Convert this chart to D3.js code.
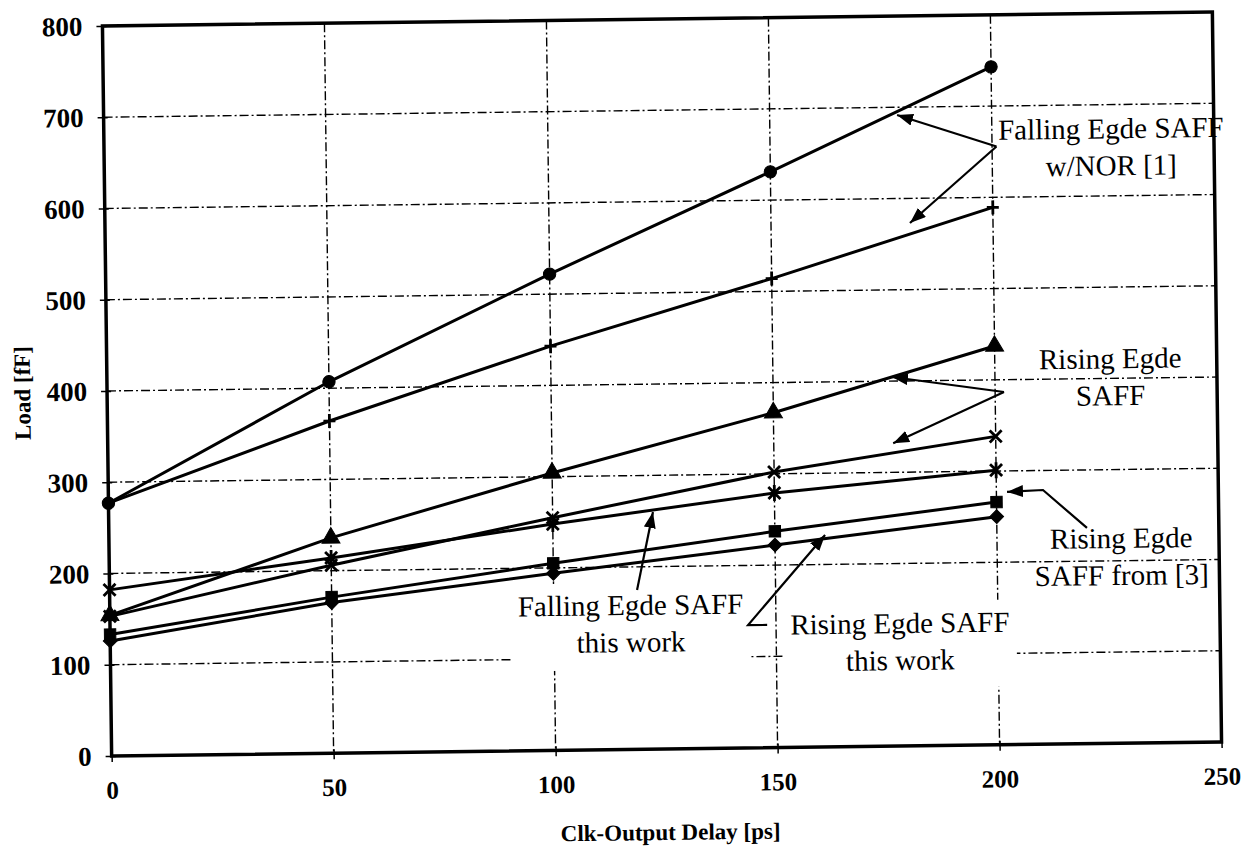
<!DOCTYPE html>
<html>
<head>
<meta charset="utf-8">
<script src="https://cdn.jsdelivr.net/npm/d3@7"></script>
<style>
  body { margin: 0; background: #fff; }
  svg { display: block; }
</style>
</head>
<body>
<div id="chart"></div>
<script>
// values
var delays = [0, 50, 100, 150, 200];
var risingThisWork = [126, 165, 194, 222, 250];     // diamond
var risingRef3 = [133, 171, 205, 237, 266];         // square
var risingSaffTri = [154, 236, 304, 367, 437];      // triangle
var risingSaffX = [153, 206, 255, 302, 338];        // x
var fallingThisWork = [182, 214, 248, 279, 301];    // asterisk
var fallingNorCircle = [277, 407, 522, 631, 743];   // circle
var fallingNorPlus = [277, 364, 443, 514, 589];     // plus

var xTicks = [0, 50, 100, 150, 200, 250];
var yTicks = [0, 100, 200, 300, 400, 500, 600, 700, 800];

var W = 1249, H = 846;
var plotLeft = 107, plotTop = 19, width = 1110, height = 730;

var svg = d3.select("#chart").append("svg")
    .attr("width", W)
    .attr("height", H)
    .style("font-family", "'Liberation Serif', 'Times New Roman', serif");

// the scan is tilted a little
var root = svg.append("g").attr("transform", "rotate(-0.72,662,384)");
var g = root.append("g").attr("transform", "translate(" + plotLeft + "," + plotTop + ")");

var x = d3.scaleLinear().domain([0, 250]).range([0, width]);
var y = d3.scaleLinear().domain([0, 800]).range([height, 0]);

var defs = svg.append("defs");
defs.append("marker")
    .attr("id", "arrow")
    .attr("viewBox", "0 0 16 12")
    .attr("refX", 16)
    .attr("refY", 6)
    .attr("markerUnits", "userSpaceOnUse")
    .attr("markerWidth", 16)
    .attr("markerHeight", 12)
    .attr("orient", "auto")
  .append("path")
    .attr("d", "M0,0L16,6L0,12z")
    .attr("fill", "#000");

// grid
var dash = "9,3,2,3";
g.selectAll(".hgrid")
    .data(yTicks.filter(function(d) { return d > 0 && d < 800; }))
  .enter().append("line")
    .attr("class", "hgrid")
    .attr("x1", 0).attr("x2", width)
    .attr("y1", function(d) { return y(d); })
    .attr("y2", function(d) { return y(d); })
    .attr("stroke", "#000").attr("stroke-width", 1.4)
    .attr("stroke-dasharray", dash);

g.selectAll(".vgrid")
    .data(xTicks.filter(function(d) { return d > 0 && d < 250; }))
  .enter().append("line")
    .attr("class", "vgrid")
    .attr("y1", 0).attr("y2", height)
    .attr("x1", function(d) { return x(d); })
    .attr("x2", function(d) { return x(d); })
    .attr("stroke", "#000").attr("stroke-width", 1.4)
    .attr("stroke-dasharray", dash);

// axes
var yAxis = g.append("g")
    .call(d3.axisLeft(y).tickValues(yTicks).tickSize(6).tickPadding(14));
yAxis.select(".domain").remove();
yAxis.selectAll(".tick line").attr("x1", 4).attr("stroke-width", 1.5);
yAxis.selectAll(".tick text")
    .attr("dy", "0.33em")
    .style("font-family", "'Liberation Serif', serif")
    .style("font-weight", "bold")
    .style("font-size", "27px")
    .attr("fill", "#000");

var xAxis = g.append("g")
    .attr("transform", "translate(0," + height + ")")
    .call(d3.axisBottom(x).tickValues(xTicks).tickSize(6).tickPadding(19));
xAxis.select(".domain").remove();
xAxis.selectAll(".tick line").attr("y1", -4).attr("stroke-width", 1.5);
xAxis.selectAll(".tick text")
    .attr("dy", "0.71em")
    .style("font-family", "'Liberation Serif', serif")
    .style("font-weight", "bold")
    .style("font-size", "25px")
    .attr("fill", "#000");

g.append("rect")
    .attr("width", width)
    .attr("height", height)
    .attr("fill", "none")
    .attr("stroke", "#000")
    .attr("stroke-width", 3.5);

// axis titles
root.append("text")
    .attr("transform", "translate(22,385) rotate(-90)")
    .attr("text-anchor", "middle")
    .attr("dy", "0.35em")
    .style("font-weight", "bold")
    .style("font-size", "23px")
    .text("Load [fF]");

root.append("text")
    .attr("x", 665)
    .attr("y", 840)
    .attr("text-anchor", "middle")
    .style("font-weight", "bold")
    .style("font-size", "23px")
    .text("Clk-Output Delay [ps]");

// series
var series = [
    {name: "risingThisWork", values: risingThisWork, symbol: "diamond"},
    {name: "risingRef3", values: risingRef3, symbol: "square"},
    {name: "risingSaffTri", values: risingSaffTri, symbol: "triangle"},
    {name: "risingSaffX", values: risingSaffX, symbol: "times"},
    {name: "fallingThisWork", values: fallingThisWork, symbol: "asterisk"},
    {name: "fallingNorCircle", values: fallingNorCircle, symbol: "circle"},
    {name: "fallingNorPlus", values: fallingNorPlus, symbol: "plus"}
];

var line = d3.line()
    .x(function(d, i) { return x(delays[i]); })
    .y(function(d) { return y(d); });

series.forEach(function(s) {
    g.append("path")
        .datum(s.values)
        .attr("d", line)
        .attr("fill", "none")
        .attr("stroke", "#000")
        .attr("stroke-width", 3);
});

function markerPath(type) {
    if (type == "circle") return d3.symbol(d3.symbolCircle, 120)();
    if (type == "square") return d3.symbol(d3.symbolSquare, 130)();
    if (type == "diamond") return d3.symbol(d3.symbolSquare, 95)();
    if (type == "triangle") return d3.symbol(d3.symbolTriangle, 140)();
    if (type == "times") return "M-6,-6L6,6M-6,6L6,-6";
    if (type == "plus") return "M-6,0L6,0M0,-7L0,7";
    return "M-6,-6L6,6M-6,6L6,-6M0,-8L0,8";
}

series.forEach(function(s) {
    var filled = ["circle", "square", "diamond", "triangle"].indexOf(s.symbol) >= 0;
    g.selectAll(".m-" + s.name)
        .data(s.values)
      .enter().append("path")
        .attr("class", "m-" + s.name)
        .attr("d", markerPath(s.symbol))
        .attr("transform", function(d, i) {
            return "translate(" + x(delays[i]) + "," + y(d) + ")" +
                (s.symbol == "diamond" ? " rotate(45)" : "");
        })
        .attr("fill", filled ? "#000" : "none")
        .attr("stroke", "#000")
        .attr("stroke-width", filled ? 1 : 2.8);
});

// annotations, in data units
var notes = [
    {lines: ["Falling Egde SAFF", "w/NOR [1]"], at: [226.8, 663], box: false,
     arrows: [[[201, 655.6], [178.7, 691.6]], [[201, 655.6], [181.3, 573]]]},
    {lines: ["Rising Egde", "SAFF"], at: [226, 411], box: false,
     arrows: [[[202, 386.5], [176.8, 404.5]], [[202, 386.5], [176.9, 332]]]},
    {lines: ["Rising Egde", "SAFF from [3]"], at: [228, 214], box: false,
     arrows: [[[220.3, 236.4], [210.5, 278.6], [202.4, 277]]]},
    {lines: ["Falling Egde SAFF", "this work"], at: [117.3, 147.3], box: true,
     arrows: [[[118.8, 174.6], [122.6, 259.8]]]},
    {lines: ["Rising Egde SAFF", "this work"], at: [177.9, 123.8], box: true,
     arrows: [[[148, 134.5], [143.7, 134.7], [161.3, 232.3]]]}
];

var arrowLine = d3.line()
    .x(function(d) { return x(d[0]); })
    .y(function(d) { return y(d[1]); });

notes.forEach(function(n) {
    var t = g.append("text")
        .attr("text-anchor", "middle")
        .style("font-size", "29px")
        .attr("fill", "#000");
    n.lines.forEach(function(l, i) {
        t.append("tspan")
            .attr("x", x(n.at[0]))
            .attr("y", y(n.at[1]) + i * 37)
            .text(l);
    });
    if (n.box) {
        var b = t.node().getBBox();
        g.insert("rect", function() { return t.node(); })
            .attr("x", b.x - 7)
            .attr("y", b.y - 6)
            .attr("width", b.width + 14)
            .attr("height", b.height + 18)
            .attr("fill", "#fff");
    }
    n.arrows.forEach(function(a) {
        g.append("path")
            .attr("d", arrowLine(a))
            .attr("fill", "none")
            .attr("stroke", "#000")
            .attr("stroke-width", 2.2)
            .attr("marker-end", "url(#arrow)");
    });
});
</script>
</body>
</html>
